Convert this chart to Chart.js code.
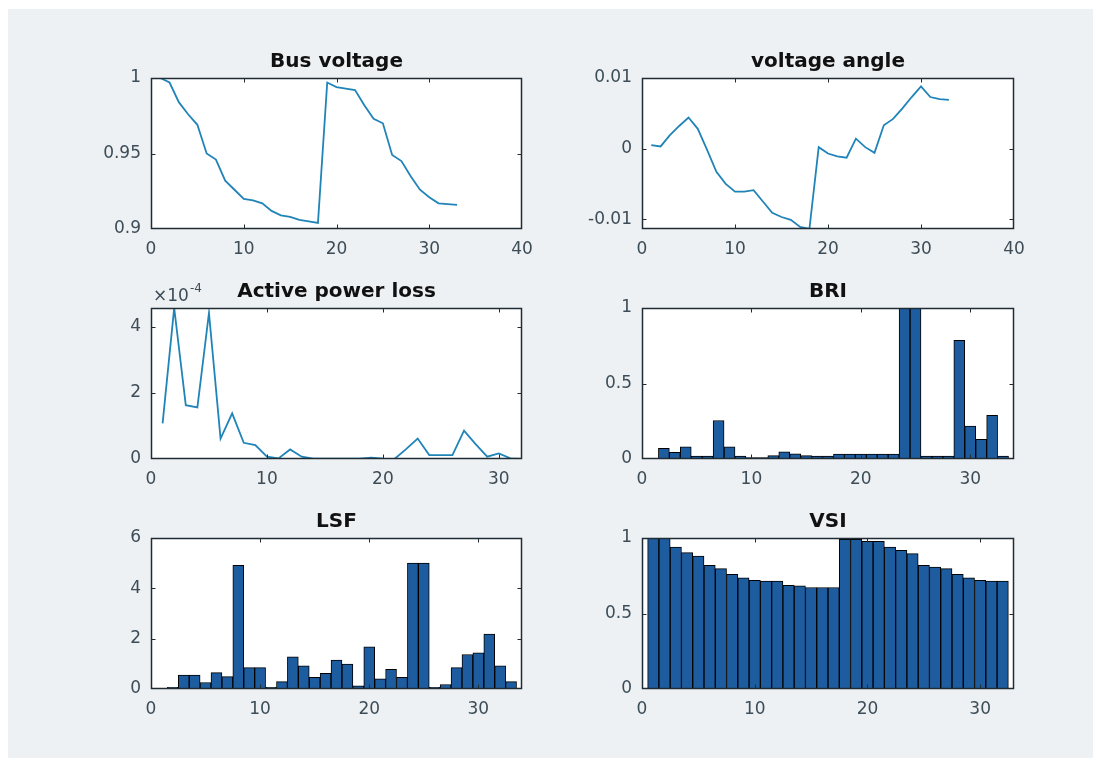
<!DOCTYPE html>
<html>
<head>
<meta charset="utf-8">
<script src="https://cdn.jsdelivr.net/npm/chart.js@4.4.1/dist/chart.umd.min.js"></script>
<style>
  html, body { margin: 0; padding: 0; background: #fff; }
  #fig { position: absolute; left: 8px; top: 9px; width: 1085px; height: 749px; background: #eef1f3; }
  canvas { position: absolute; }
</style>
</head>
<body>
<div id="fig"></div>
<script>
// ---- data ----
const busVoltage = [1.000, 0.997, 0.984, 0.976, 0.969, 0.950, 0.946, 0.932, 0.926, 0.920, 0.919,
  0.917, 0.912, 0.909, 0.908, 0.906, 0.905, 0.904, 0.997, 0.994, 0.993, 0.992, 0.982, 0.973,
  0.970, 0.949, 0.945, 0.935, 0.926, 0.921, 0.917, 0.9165, 0.916]

const voltageAngle = [0.0005, 0.0003, 0.0019, 0.0032, 0.0044, 0.0028, -0.0002, -0.0033, -0.0050,
  -0.0061, -0.0061, -0.0059, -0.0075, -0.0091, -0.0097, -0.0101, -0.0111, -0.0114, 0.0002,
  -0.0007, -0.0011, -0.0013, 0.0014, 0.0002, -0.0006, 0.0033, 0.0042, 0.0057, 0.0073, 0.0088,
  0.0073, 0.0070, 0.0069]

// active power loss, in units of 1e-4
const powerLoss = [1.08, 4.57, 1.63, 1.56, 4.42, 0.62, 1.38, 0.49, 0.42, 0.07, 0.02, 0.29, 0.07,
  0.01, 0.01, 0.01, 0.01, 0.01, 0.04, 0.01, 0.0, 0.30, 0.62, 0.12, 0.12, 0.12, 0.86, 0.45, 0.07,
  0.17, 0.02, 0.0]

const bri = [0.005, 0.07, 0.045, 0.08, 0.02, 0.02, 0.255, 0.08, 0.02, 0.01, 0.01, 0.022, 0.048,
  0.035, 0.022, 0.02, 0.02, 0.033, 0.033, 0.033, 0.033, 0.033, 0.033, 1.0, 1.0, 0.02, 0.02, 0.02,
  0.786, 0.218, 0.13, 0.29, 0.02]

const lsf = [0.01, 0.07, 0.55, 0.55, 0.26, 0.65, 0.49, 4.91, 0.85, 0.85, 0.07, 0.29, 1.28, 0.92,
  0.46, 0.62, 1.15, 0.99, 0.13, 1.68, 0.40, 0.78, 0.46, 5.0, 5.0, 0.07, 0.18, 0.85, 1.37, 1.44,
  2.18, 0.92, 0.29]

const vsi = [1.0, 0.997, 0.94, 0.903, 0.881, 0.819, 0.797, 0.76, 0.736, 0.72, 0.714, 0.714, 0.687,
  0.683, 0.672, 0.672, 0.672, 0.991, 0.991, 0.978, 0.978, 0.94, 0.918, 0.896, 0.819, 0.808, 0.797,
  0.76, 0.736, 0.72, 0.714, 0.714]

// tick labels
const xTicks40 = [0, 10, 20, 30, 40]
const xTicks30 = [0, 10, 20, 30]
const busTicks = [0.9, 0.95, 1]
const angleTicks = [-0.01, 0, 0.01]
const lossTicks = [0, 2, 4]
const briTicks = [0, 0.5, 1]
const lsfTicks = [0, 2, 4, 6]
const vsiTicks = [0, 0.5, 1]

// ---- style ----
const LINE = 'rgb(32,132,184)'
const BAR = 'rgb(30,92,160)'
const BOX = '#1f2c34'
const TICK = '#3d4d58'
// canvas is symmetric round the axes box so the library's title is centred on it
const SIDE = 70, TITLE_H = 40, X_H = 40

// white plot area, box, inward tick marks, exponent label
const matlabAxes = {
  id: 'matlabAxes',
  beforeDraw(chart){
    const {ctx, chartArea: a} = chart
    ctx.save()
    ctx.fillStyle = '#fff'
    ctx.fillRect(a.left, a.top, a.right - a.left, a.bottom - a.top)
    ctx.restore()
  },
  afterDraw(chart, args, opts){
    const {ctx, chartArea: a, scales} = chart
    const L = Math.round(a.left) + 0.5, R = Math.round(a.right) - 0.5
    const T = Math.round(a.top) + 0.5, B = Math.round(a.bottom) - 0.5
    ctx.save()
    ctx.strokeStyle = BOX
    ctx.lineWidth = 1
    ctx.beginPath()
    scales.x.ticks.forEach(t => {
      const px = Math.round(scales.x.getPixelForValue(t.value)) + 0.5
      if (px > L + 2 && px < R - 2) {
        ctx.moveTo(px, B); ctx.lineTo(px, B - 4)
        ctx.moveTo(px, T); ctx.lineTo(px, T + 4)
      }
    })
    scales.y.ticks.forEach(t => {
      const py = Math.round(scales.y.getPixelForValue(t.value)) + 0.5
      if (py > T + 2 && py < B - 2) {
        ctx.moveTo(L, py); ctx.lineTo(L + 4, py)
        ctx.moveTo(R, py); ctx.lineTo(R - 4, py)
      }
    })
    ctx.stroke()
    ctx.lineWidth = 1.5
    ctx.strokeRect(L, T, R - L, B - T)
    if (opts && opts.exponent) {
      ctx.fillStyle = TICK
      ctx.textBaseline = 'alphabetic'
      ctx.textAlign = 'left'
      ctx.font = '17px "DejaVu Sans"'
      const base = '\u00d710'
      ctx.fillText(base, a.left + 2, a.top - 7)
      const w = ctx.measureText(base).width
      ctx.font = '12px "DejaVu Sans"'
      ctx.fillText(opts.exponent, a.left + 3 + w, a.top - 16)
    }
    ctx.restore()
  }
}

function fixedTicks(list){
  return scale => { scale.ticks = list.map(v => ({value: v})) }
}

function panel(box, type, title, values, xMax, xTickList, yMin, yMax, yTickList, extra){
  const canvas = document.createElement('canvas')
  canvas.width = box.w + 2 * SIDE
  canvas.height = box.h + TITLE_H + X_H
  canvas.style.left = (box.x - SIDE) + 'px'
  canvas.style.top = (box.y - TITLE_H) + 'px'
  document.body.appendChild(canvas)

  const points = values.map((v, i) => ({x: i + 1, y: v}))
  const ds = type === 'line'
    ? {data: points, borderColor: LINE, borderWidth: 1.8, pointRadius: 0, tension: 0, fill: false}
    : {data: points, backgroundColor: BAR, borderColor: '#000', borderWidth: 1,
       borderSkipped: false, barPercentage: 1, categoryPercentage: 1}

  new Chart(canvas, {
    type: type,
    data: {datasets: [ds]},
    options: {
      responsive: false,
      animation: false,
      layout: {padding: 0},
      plugins: {
        legend: {display: false},
        tooltip: {enabled: false},
        title: {
          display: true, text: title, color: '#111',
          font: {family: 'DejaVu Sans', size: 20, weight: 'bold', lineHeight: 1.2},
          padding: {top: 12, bottom: 4}
        },
        matlabAxes: extra || {}
      },
      scales: {
        x: {
          type: 'linear', min: 0, max: xMax, offset: false,
          grid: {display: false, drawTicks: false},
          border: {display: false},
          afterBuildTicks: fixedTicks(xTickList),
          afterFit: s => { s.height = X_H },
          ticks: {color: TICK, font: {family: 'DejaVu Sans', size: 17}, padding: 10,
                  maxRotation: 0, autoSkip: false, callback: v => String(v)}
        },
        y: {
          type: 'linear', min: yMin, max: yMax,
          grid: {display: false, drawTicks: false},
          border: {display: false},
          afterBuildTicks: fixedTicks(yTickList),
          afterFit: s => { s.width = SIDE },
          ticks: {color: TICK, font: {family: 'DejaVu Sans', size: 17}, padding: 10,
                  autoSkip: false, callback: v => String(v)}
        },
        // empty right-hand strip, same width as the y axis
        yRight: {
          type: 'linear', position: 'right', min: yMin, max: yMax,
          grid: {display: false, drawTicks: false},
          border: {display: false},
          ticks: {display: false},
          afterFit: s => { s.width = SIDE }
        }
      }
    },
    plugins: [matlabAxes]
  })
}

const col1 = {x: 151, w: 371}, col2 = {x: 642, w: 372}
const row1 = {y: 78, h: 151}, row2 = {y: 308, h: 151}, row3 = {y: 538, h: 151}
const at = (c, r) => ({x: c.x, w: c.w, y: r.y, h: r.h})

panel(at(col1, row1), 'line', 'Bus voltage', busVoltage, 40, xTicks40, 0.9, 1, busTicks)
panel(at(col2, row1), 'line', 'voltage angle', voltageAngle, 40, xTicks40, -0.0114, 0.01, angleTicks)
panel(at(col1, row2), 'line', 'Active power loss', powerLoss, 32, xTicks30, 0, 4.57, lossTicks, {exponent: '-4'})
panel(at(col2, row2), 'bar', 'BRI', bri, 34, xTicks30, 0, 1, briTicks)
panel(at(col1, row3), 'bar', 'LSF', lsf, 34, xTicks30, 0, 6, lsfTicks)
panel(at(col2, row3), 'bar', 'VSI', vsi, 33, xTicks30, 0, 1, vsiTicks)
</script>
</body>
</html>
